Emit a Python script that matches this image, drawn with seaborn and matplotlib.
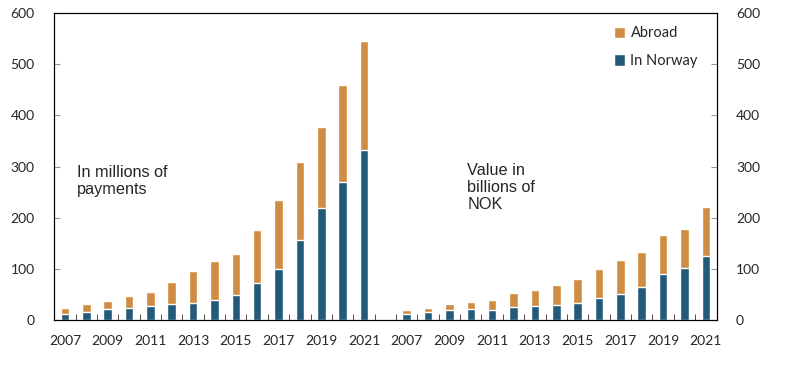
import numpy as np
import pandas as pd
from matplotlib import pyplot as plt
import seaborn as sns

years = list(range(2007, 2022))

# number of payments, millions
count_total = [23, 31, 38, 47, 55, 75, 96, 116, 130, 177, 234, 309, 378, 459, 545]
count_norway = [11, 15, 21, 24, 27, 31, 33, 40, 49, 73, 100, 156, 219, 269, 333]

# value, billions of NOK
value_total = [20, 24, 31, 35, 40, 53, 59, 69, 81, 100, 118, 133, 167, 179, 222]
value_norway = [11, 15, 19, 21, 19, 25, 27, 29, 33, 44, 51, 64, 90, 102, 126]

orange = "#D08C42"
blue = "#235A7A"

# one slot per bar, with an empty slot between the two panels
slots = ["c%d" % y for y in years] + ["gap"] + ["v%d" % y for y in years]
df = pd.DataFrame({
    "slot": ["c%d" % y for y in years] + ["v%d" % y for y in years],
    "total": count_total + value_total,
    "norway": count_norway + value_norway,
})

sns.set_style("ticks")
plt.rcParams["font.family"] = ["Lato", "DejaVu Sans"]

fig = plt.figure(figsize=(7.97, 3.65), dpi=100)
ax = fig.add_axes([0.068, 0.123, 0.831, 0.841])

sns.barplot(data=df, x="slot", y="total", order=slots, color=orange,
            width=0.4, saturation=1, ax=ax, label="Abroad")
sns.barplot(data=df, x="slot", y="norway", order=slots, color=blue,
            width=0.4, saturation=1, ax=ax, label="In Norway")

ax.set_xlim(-0.5, len(slots) - 0.5)
ax.set_ylim(0, 600)
ax.set_xlabel("")
ax.set_ylabel("")

labpos = [i for i, s in enumerate(slots) if s != "gap" and int(s[1:]) % 2 == 1]
ax.set_xticks(labpos)
ax.set_xticklabels([slots[i][1:] for i in labpos], fontsize=10)
ax.set_xticks(np.arange(0.5, len(slots) - 1, 1), minor=True)
ax.tick_params(axis="x", which="major", length=0, pad=11)
ax.tick_params(axis="x", which="minor", direction="in", length=4, color="#333333")

ax.set_yticks(range(0, 601, 100))
ax.tick_params(axis="y", direction="in", length=4, color="#999999", labelsize=10, pad=14)

ax2 = ax.twinx()
ax2.set_ylim(0, 600)
ax2.set_yticks(range(0, 601, 100))
ax2.tick_params(axis="y", direction="in", length=4, color="#999999", labelsize=10, pad=14)

for a in (ax, ax2):
    for sp in a.spines.values():
        sp.set_visible(True)
        sp.set_color("black")
        sp.set_linewidth(0.8)

ax.text(0.58, 303, "In millions of\npayments",
        fontsize=11.7, family="Liberation Sans", va="top", linespacing=1.15)
ax.text(18.83, 307, "Value in\nbillions of\nNOK",
        fontsize=11.7, family="Liberation Sans", va="top", linespacing=1.15)

handles, labels = ax.get_legend_handles_labels()
ax.legend(handles, labels, loc="upper left", bbox_to_anchor=(0.825, 1.0),
          frameon=False, fontsize=10.5, handlelength=0.8, handleheight=0.8,
          handletextpad=0.35, labelspacing=0.95)

fig.savefig("out.png", dpi=100)
